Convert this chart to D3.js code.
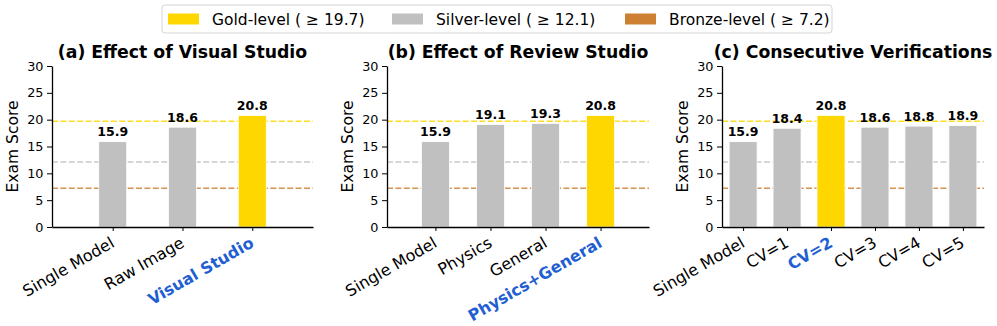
<!DOCTYPE html>
<html>
<head>
<meta charset="utf-8">
<script src="https://cdn.jsdelivr.net/npm/d3@7"></script>
<style>
  body { margin: 0; background: #fff; }
  text { font-family: "DejaVu Sans", sans-serif; }
</style>
</head>
<body>
<svg id="chart" width="997" height="326"></svg>
<script>
// medal thresholds
const levelNames = ["Gold-level", "Silver-level", "Bronze-level"];
const levelThresholds = [19.7, 12.1, 7.2];
const levelColors = ["#FFD700", "#C0C0C0", "#CD7F32"];

// panel data
const visualCategories = ["Single Model", "Raw Image", "Visual Studio"];
const visualScores = [15.9, 18.6, 20.8];

const reviewCategories = ["Single Model", "Physics", "General", "Physics+General"];
const reviewScores = [15.9, 19.1, 19.3, 20.8];

const cvCategories = ["Single Model", "CV=1", "CV=2", "CV=3", "CV=4", "CV=5"];
const cvScores = [15.9, 18.4, 20.8, 18.6, 18.8, 18.9];

const yTicks = [0, 5, 10, 15, 20, 25, 30];

const panels = [
  { title: "(a) Effect of Visual Studio", cats: visualCategories, vals: visualScores, left: 52, right: 313, pad: 0.87 },
  { title: "(b) Effect of Review Studio", cats: reviewCategories, vals: reviewScores, left: 387, right: 649, pad: 0.88 },
  { title: "(c) Consecutive Verifications", cats: cvCategories, vals: cvScores, left: 722, right: 984, pad: 0.48 }
];

const svg = d3.select('#chart');
const plotTop = 66, plotBottom = 227;
const barW = 28;
const blue = "#1f5fd1";

const y = d3.scaleLinear().domain([0, 30]).range([plotBottom, plotTop]);

panels.forEach(p => {
  const n = p.cats.length;
  const x = d3.scaleLinear().domain([-p.pad, n - 1 + p.pad]).range([p.left, p.right]);
  const best = d3.maxIndex(p.vals);
  const g = svg.append('g');

  // threshold lines
  levelThresholds.forEach((t, i) => {
    g.append('line')
      .attr('x1', p.left).attr('x2', p.right)
      .attr('y1', y(t)).attr('y2', y(t))
      .attr('stroke', levelColors[i])
      .attr('stroke-width', 1.5)
      .attr('stroke-dasharray', '6,2.4')
      .attr('opacity', 0.85);
  });

  // bars
  g.selectAll('rect')
    .data(p.vals)
    .join('rect')
    .attr('x', (d, i) => x(i) - barW / 2)
    .attr('width', barW)
    .attr('y', d => y(d))
    .attr('height', d => y(0) - y(d))
    .attr('fill', d => d >= levelThresholds[0] ? levelColors[0] : levelColors[1])
    .attr('stroke', '#fff')
    .attr('stroke-width', 0.8);

  // value labels
  g.selectAll('text.val')
    .data(p.vals)
    .join('text')
    .attr('class', 'val')
    .attr('x', (d, i) => x(i))
    .attr('y', d => y(d) - 5.5)
    .attr('text-anchor', 'middle')
    .attr('font-size', 12.5)
    .attr('font-weight', 'bold')
    .text(d => d.toFixed(1));

  // y axis
  const ya = g.append('g')
    .attr('transform', `translate(${p.left},0)`)
    .call(d3.axisLeft(y).tickValues(yTicks).tickSize(5).tickSizeOuter(0).tickPadding(3.5));
  ya.selectAll('text').attr('font-size', 12.8).attr('font-family', '"DejaVu Sans", sans-serif').attr('fill', '#000');
  ya.select('.domain').attr('stroke-width', 1.3);

  // x axis
  const xa = g.append('g')
    .attr('transform', `translate(0,${plotBottom})`)
    .call(d3.axisBottom(x).tickValues(d3.range(n)).tickSize(4).tickSizeOuter(0).tickFormat(''));
  xa.select('.domain').attr('stroke-width', 1.3);

  g.selectAll('text.xlab')
    .data(p.cats)
    .join('text')
    .attr('class', 'xlab')
    .attr('transform', (d, i) => `translate(${x(i) - 3},${plotBottom + 9}) rotate(-30)`)
    .attr('dy', '0.72em')
    .attr('text-anchor', 'end')
    .attr('font-size', 16)
    .attr('font-weight', (d, i) => i === best ? 'bold' : 'normal')
    .attr('fill', (d, i) => i === best ? blue : '#000')
    .text(d => d);

  // y label
  g.append('text')
    .attr('transform', `translate(${p.left - 34},${(plotTop + plotBottom) / 2}) rotate(-90)`)
    .attr('text-anchor', 'middle')
    .attr('font-size', 15.5)
    .text('Exam Score');

  // title
  g.append('text')
    .attr('x', (p.left + p.right) / 2)
    .attr('y', 57.5)
    .attr('text-anchor', 'middle')
    .attr('font-size', 17.3)
    .attr('font-weight', 'bold')
    .text(p.title);
});

// legend
const legend = svg.append('g');
legend.append('rect')
  .attr('x', 162).attr('y', 5)
  .attr('width', 670).attr('height', 28)
  .attr('rx', 3)
  .attr('fill', '#fff')
  .attr('stroke', '#d5d5d5');

const legendX = [168, 392, 625];
levelNames.forEach((name, i) => {
  legend.append('rect')
    .attr('x', legendX[i]).attr('y', 13.5)
    .attr('width', 31).attr('height', 11)
    .attr('fill', levelColors[i]);
  legend.append('text')
    .attr('x', legendX[i] + 44)
    .attr('y', 24.5)
    .attr('font-size', 15.5)
    .text(`${name} ( ≥ ${levelThresholds[i]})`);
});
</script>
</body>
</html>
